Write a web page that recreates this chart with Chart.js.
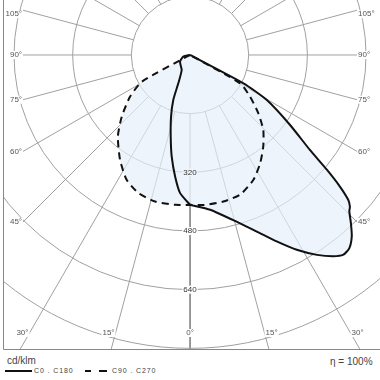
<!DOCTYPE html>
<html>
<head>
<meta charset="utf-8">
<script src="https://cdn.jsdelivr.net/npm/chart.js@4"></script>
<style>
  body { margin: 0; background: #fff; width: 380px; height: 380px; overflow: hidden; position: relative;
         font-family: "Liberation Sans", Arial, sans-serif; }
  #ldc { position: absolute; left: 0; top: 0; }
  .txt { position: absolute; white-space: nowrap; color: #444; line-height: 1; }
  .key { position: absolute; height: 1.5px; background: #111; }
</style>
</head>
<body>
<canvas id="ldc" width="380" height="352"></canvas>
<div class="txt" style="left:7px;top:356px;font-size:10px;">cd/klm</div>
<div class="key" style="left:5px;top:370px;width:27px;"></div>
<div class="txt" style="left:34px;top:367px;font-size:7px;letter-spacing:0.9px;">C0 . C180</div>
<div class="key" style="left:85px;top:370px;width:6px;"></div>
<div class="key" style="left:99px;top:370px;width:8px;"></div>
<div class="txt" style="left:112px;top:367px;font-size:7px;letter-spacing:0.9px;">C90 . C270</div>
<div class="txt" style="left:330px;top:357px;font-size:10px;">η = 100%</div>
<script>
// angles in degrees from nadir, luminous intensity in cd/klm
const anglesC0   = [0, 7.4, 16.1, 20.7, 24.9, 28.7, 32.4, 35.4, 37.5, 39.5, 41.7, 43.7, 45.5, 46.5, 47.5, 48.7, 50, 51.6, 55, 59.6, 62, 90];
const valuesC0   = [409, 426, 476, 515, 561, 606, 646, 674, 687, 683, 663, 635, 609, 601, 585, 544, 487, 417, 333, 242, 165, 0];
const anglesC180 = [0, 4.1, 7, 10.2, 13.3, 17.1, 20.4, 22.5, 29, 56, 76, 90];
const valuesC180 = [409, 378, 334, 282, 229, 176, 131, 83, 47, 33, 19, 0];
const anglesC90  = [0, 5.1, 12.8, 19.7, 26.9, 32.9, 38.6, 44.3, 49.5, 55.2, 60.5, 90];
const valuesC90  = [409, 411, 410, 405, 382, 352, 320, 286, 245, 199, 157, 0];
const anglesC270 = [0, 5.7, 13.4, 20.5, 26.9, 33.7, 41.5, 47.9, 55.2, 61, 90];
const valuesC270 = [409, 411, 411, 402, 382, 344, 297, 251, 199, 150, 0];

const ringValues = [160, 320, 480, 640, 800];
const ringLabels = [320, 480, 640];
const angleTicks = [0, 15, 30, 45, 60, 75, 90, 105];

const fillColor = '#eef4fb';
const rad = d => d * Math.PI / 180;

// side: +1 right half (C0 / C90), -1 left half (C180 / C270)
function toXY(angles, values, side) {
  return angles.map((a, i) => ({ x: side * values[i] * Math.sin(rad(a)), y: values[i] * Math.cos(rad(a)) }));
}

const solidPts  = [...toXY(anglesC180, valuesC180, -1).reverse(), ...toXY(anglesC0, valuesC0, 1)];
const dashedPts = [...toXY(anglesC270, valuesC270, -1).reverse(), ...toXY(anglesC90, valuesC90, 1)];

const polarGrid = {
  id: 'polarGrid',
  beforeDatasetsDraw(chart) {
    const { ctx, chartArea: a, scales: { x, y } } = chart;
    const cx = x.getPixelForValue(0), cy = y.getPixelForValue(0);
    const k = x.getPixelForValue(1) - cx;
    const side = 167;

    function grid(color, zeroColor) {
      ctx.lineWidth = 1;
      ctx.save();
      ctx.beginPath();
      ctx.rect(a.left, a.top, a.right - a.left, a.bottom - a.top);
      ctx.clip();
      ctx.strokeStyle = color;
      ringValues.forEach(v => {
        ctx.beginPath();
        ctx.arc(cx, cy, v * k, 0, Math.PI * 2);
        ctx.stroke();
      });
      ctx.restore();
      for (let d = 0; d < 360; d += 15) {
        const fold = d > 180 ? 360 - d : d;
        ctx.save();
        ctx.beginPath();
        if (fold < 45) ctx.rect(a.left, a.top, a.right - a.left, a.bottom - a.top);
        else ctx.rect(cx - side, a.top, side * 2, a.bottom - a.top);
        ctx.clip();
        const sx = Math.sin(rad(d)), sy = Math.cos(rad(d));
        const r0 = ringValues[0] * k, r1 = 2000 * k;
        ctx.strokeStyle = d === 0 ? zeroColor : color;
        ctx.beginPath();
        ctx.moveTo(cx + sx * r0, cy + sy * r0);
        ctx.lineTo(cx + sx * r1, cy + sy * r1);
        ctx.stroke();
        ctx.restore();
      }
    }

    ctx.save();
    ctx.globalCompositeOperation = 'source-atop';
    grid('#cfd6de', '#cfd6de');
    ctx.globalCompositeOperation = 'destination-over';
    grid('#a0a0a0', '#333');
    ctx.restore();
  },
  afterDatasetsDraw(chart) {
    const { ctx, chartArea: a, scales: { x, y } } = chart;
    const cx = x.getPixelForValue(0), cy = y.getPixelForValue(0);
    const k = x.getPixelForValue(1) - cx;
    const side = 167, bottom = 333;

    ctx.save();
    ctx.font = '8px "Liberation Sans", Arial, sans-serif';
    ctx.textBaseline = 'middle';

    ringLabels.forEach(v => {
      const t = String(v), w = ctx.measureText(t).width;
      const py = cy + v * k;
      ctx.fillStyle = v < valuesC0[0] ? fillColor : '#fff';
      ctx.fillRect(cx - w / 2 - 1, py - 4, w + 2, 8);
      ctx.fillStyle = '#333';
      ctx.textAlign = 'center';
      ctx.fillText(t, cx, py);
    });

    angleTicks.forEach(d => {
      [-1, 1].forEach(s => {
        if (d === 0 && s === 1) return;
        const sx = Math.sin(rad(d)), sy = Math.cos(rad(d));
        let t = Infinity;
        if (sx > 1e-6) t = Math.min(t, side / sx);
        if (sy > 1e-6) t = Math.min(t, (bottom - cy) / sy);
        const px = cx + s * sx * t;
        const py = cy + sy * t + (d > 90 ? 4 : 0);
        const label = d + '°';
        const w = ctx.measureText(label).width;
        let lx;
        if (d === 0) { ctx.textAlign = 'center'; lx = px - w / 2; }
        else if (s < 0) { ctx.textAlign = 'right'; lx = px - 1 - w; }
        else { ctx.textAlign = 'left'; lx = px + 1; }
        ctx.fillStyle = '#fff';
        ctx.fillRect(lx - 1, py - 4, w + 2, 8);
        ctx.fillStyle = '#555';
        ctx.fillText(label, d === 0 ? px : (s < 0 ? px - 1 : px + 1), py);
      });
    });

    // frame
    ctx.strokeStyle = '#888';
    ctx.lineWidth = 1;
    ctx.beginPath();
    ctx.moveTo(a.left + 0.5, a.top);
    ctx.lineTo(a.left + 0.5, a.bottom - 0.5);
    ctx.lineTo(a.right, a.bottom - 0.5);
    ctx.stroke();
    ctx.restore();
  }
};

new Chart(document.getElementById('ldc'), {
  type: 'line',
  data: {
    datasets: [
      {
        label: 'C0 . C180',
        data: solidPts,
        borderColor: '#111',
        borderWidth: 2,
        backgroundColor: fillColor,
        fill: 'shape',
        pointRadius: 0,
        tension: 0.2
      },
      {
        label: 'C90 . C270',
        data: dashedPts,
        borderColor: '#111',
        borderWidth: 2,
        borderDash: [7, 5],
        backgroundColor: fillColor,
        fill: 'shape',
        pointRadius: 0,
        tension: 0.2
      }
    ]
  },
  options: {
    responsive: false,
    animation: false,
    devicePixelRatio: 1,
    layout: { padding: { left: 3, right: 0, top: 0, bottom: 2 } },
    plugins: {
      legend: { display: false },
      tooltip: { enabled: false },
      filler: { drawTime: 'beforeDatasetsDraw' }
    },
    scales: {
      x: { type: 'linear', min: -510, max: 518, display: false },
      y: { type: 'linear', min: -150, max: 805, reverse: true, display: false }
    }
  },
  plugins: [polarGrid]
});
</script>
</body>
</html>
